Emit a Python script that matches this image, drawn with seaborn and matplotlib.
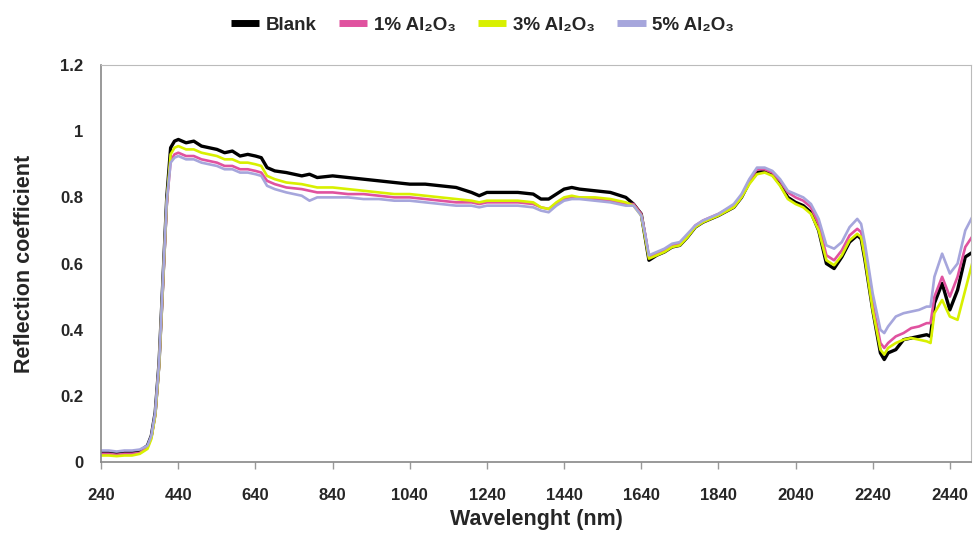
import pandas as pd
import matplotlib
matplotlib.use("Agg")
import matplotlib.pyplot as plt
import seaborn as sns

wavelength = [
    240, 260, 280, 300, 320, 340, 360, 370,
    380, 390, 400, 410, 420, 430, 440, 460,
    480, 500, 520, 540, 560, 580, 600, 620,
    640, 655, 670, 690, 720, 760, 780, 800,
    840, 880, 920, 960, 1000, 1040, 1080, 1120,
    1160, 1200, 1220, 1240, 1280, 1320, 1360, 1380,
    1400, 1420, 1440, 1460, 1480, 1520, 1560, 1600,
    1620, 1640, 1650, 1660, 1680, 1700, 1720, 1740,
    1760, 1780, 1800, 1840, 1880, 1900, 1920, 1940,
    1960, 1980, 2000, 2020, 2040, 2060, 2080, 2100,
    2120, 2140, 2160, 2180, 2200, 2210, 2220, 2240,
    2260, 2270, 2280, 2300, 2320, 2340, 2360, 2380,
    2390, 2400, 2420, 2440, 2460, 2480, 2500,
]

blank = [
    0.03, 0.03, 0.028, 0.03, 0.03, 0.033, 0.05, 0.08,
    0.15, 0.30, 0.55, 0.80, 0.95, 0.97, 0.975, 0.965,
    0.97, 0.955, 0.95, 0.945, 0.935, 0.94, 0.925, 0.93,
    0.925, 0.92, 0.89, 0.88, 0.875, 0.865, 0.87, 0.86,
    0.865, 0.86, 0.855, 0.85, 0.845, 0.84, 0.84, 0.835,
    0.83, 0.815, 0.805, 0.815, 0.815, 0.815, 0.81, 0.795,
    0.795, 0.81, 0.825, 0.83, 0.825, 0.82, 0.815, 0.80,
    0.78, 0.75, 0.68, 0.61, 0.625, 0.635, 0.65, 0.655,
    0.68, 0.71, 0.725, 0.745, 0.77, 0.80, 0.845, 0.875,
    0.88, 0.87, 0.84, 0.80, 0.785, 0.775, 0.755, 0.70,
    0.60, 0.585, 0.62, 0.665, 0.685, 0.675, 0.61, 0.46,
    0.33, 0.31, 0.33, 0.34, 0.37, 0.375, 0.38, 0.385,
    0.38, 0.48, 0.54, 0.46, 0.52, 0.62, 0.635,
]

al1 = [
    0.025, 0.025, 0.022, 0.025, 0.025, 0.028, 0.045, 0.075,
    0.14, 0.29, 0.53, 0.78, 0.91, 0.93, 0.935, 0.925,
    0.925, 0.915, 0.91, 0.905, 0.895, 0.895, 0.885, 0.885,
    0.88, 0.875, 0.85, 0.84, 0.83, 0.825, 0.82, 0.815,
    0.815, 0.81, 0.81, 0.805, 0.80, 0.80, 0.795, 0.79,
    0.785, 0.785, 0.78, 0.785, 0.785, 0.785, 0.78, 0.77,
    0.765, 0.78, 0.795, 0.80, 0.80, 0.795, 0.79, 0.78,
    0.78, 0.75, 0.69, 0.62, 0.63, 0.64, 0.655, 0.66,
    0.685, 0.715, 0.73, 0.75, 0.775, 0.805, 0.85, 0.885,
    0.885, 0.875, 0.85, 0.815, 0.80, 0.79, 0.77, 0.72,
    0.625, 0.61, 0.64, 0.685, 0.705, 0.695, 0.63, 0.48,
    0.36, 0.345, 0.36, 0.38, 0.39, 0.405, 0.41, 0.42,
    0.42, 0.50, 0.56, 0.50, 0.56, 0.65, 0.685,
]

al3 = [
    0.02, 0.02, 0.018, 0.02, 0.02, 0.025, 0.04, 0.07,
    0.14, 0.29, 0.54, 0.79, 0.93, 0.95, 0.955, 0.945,
    0.945, 0.935, 0.93, 0.925, 0.915, 0.915, 0.905, 0.905,
    0.90, 0.895, 0.865, 0.855, 0.845, 0.84, 0.835, 0.83,
    0.83, 0.825, 0.82, 0.815, 0.81, 0.81, 0.805, 0.80,
    0.795, 0.79, 0.785, 0.79, 0.79, 0.79, 0.785, 0.77,
    0.765, 0.785, 0.80, 0.805, 0.80, 0.80, 0.795, 0.785,
    0.775, 0.745, 0.68, 0.615, 0.625, 0.635, 0.65, 0.655,
    0.68, 0.71, 0.725, 0.745, 0.77, 0.80, 0.84, 0.87,
    0.875, 0.865, 0.835, 0.795, 0.78, 0.77, 0.75, 0.70,
    0.61, 0.595, 0.625, 0.67, 0.69, 0.68, 0.615, 0.46,
    0.34, 0.325, 0.345, 0.36, 0.37, 0.375, 0.37, 0.365,
    0.36, 0.45, 0.49, 0.44, 0.43, 0.52, 0.61,
]

al5 = [
    0.035, 0.035, 0.032, 0.035, 0.035, 0.038, 0.05, 0.08,
    0.15, 0.30, 0.55, 0.79, 0.905, 0.92, 0.925, 0.915,
    0.915, 0.905, 0.90, 0.895, 0.885, 0.885, 0.875, 0.875,
    0.87, 0.865, 0.835, 0.825, 0.815, 0.805, 0.79, 0.80,
    0.80, 0.80, 0.795, 0.795, 0.79, 0.79, 0.785, 0.78,
    0.775, 0.775, 0.77, 0.775, 0.775, 0.775, 0.77, 0.76,
    0.755, 0.775, 0.79, 0.795, 0.795, 0.79, 0.785, 0.775,
    0.775, 0.745, 0.69, 0.625, 0.635, 0.645, 0.66, 0.665,
    0.69, 0.715, 0.73, 0.75, 0.78, 0.81, 0.855, 0.89,
    0.89, 0.88, 0.855, 0.82, 0.81, 0.80, 0.78, 0.735,
    0.655, 0.645, 0.665, 0.71, 0.735, 0.72, 0.66, 0.51,
    0.40, 0.39, 0.41, 0.44, 0.45, 0.455, 0.46, 0.47,
    0.47, 0.56, 0.63, 0.57, 0.60, 0.70, 0.745,
]

labels = ["Blank", "1% Al₂O₃", "3% Al₂O₃", "5% Al₂O₃"]
colors = ["#000000", "#e0529f", "#d8f000", "#a6a6dc"]
x_ticks = [240, 440, 640, 840, 1040, 1240, 1440, 1640, 1840, 2040, 2240, 2440]

frames = []
for name, vals in zip(labels, [blank, al1, al3, al5]):
    frames.append(pd.DataFrame({"wl": wavelength, "r": vals, "sample": name}))
df = pd.concat(frames, ignore_index=True)

sns.set_style("white")
plt.rcParams["font.family"] = ["Liberation Sans", "DejaVu Sans"]
plt.rcParams["font.weight"] = "bold"

fig = plt.figure(figsize=(9.73, 5.33), dpi=100)
ax = fig.add_axes([0.104, 0.133, 0.894, 0.745])

sns.lineplot(data=df, x="wl", y="r", hue="sample", hue_order=labels,
             palette=colors, estimator=None, sort=False, linewidth=1.9,
             legend=False, ax=ax)
ax.get_lines()[0].set_linewidth(2.4)

ax.set_xlim(240, 2495)
ax.set_ylim(0, 1.2)
ax.set_xticks(x_ticks)
ax.set_yticks([0, 0.2, 0.4, 0.6, 0.8, 1.0, 1.2])
ax.set_yticklabels(["0", "0.2", "0.4", "0.6", "0.8", "1", "1.2"])
ax.tick_params(axis="x", labelsize=12, direction="out", length=5,
               width=1, color="#999999", bottom=True, pad=14)
ax.tick_params(axis="y", labelsize=12, left=False, length=0, pad=13)
for t in ax.get_xticklabels() + ax.get_yticklabels():
    t.set_fontweight("bold")

for s in ["top", "right"]:
    ax.spines[s].set_color("#bbbbbb")
    ax.spines[s].set_linewidth(0.8)
for s in ["left", "bottom"]:
    ax.spines[s].set_color("#888888")
    ax.spines[s].set_linewidth(1.2)

ax.set_xlabel("Wavelenght (nm)", fontsize=15.5, fontweight="bold", labelpad=4)
ax.set_ylabel("Reflection coefficient", fontsize=15.5, fontweight="bold", labelpad=18)

handles = ax.get_lines()[:4]
leg = fig.legend(handles, labels, loc="upper center", bbox_to_anchor=(0.496, 1.0),
                 ncol=4, frameon=False, handlelength=1.5, handletextpad=0.35,
                 columnspacing=1.2, prop={"weight": "bold", "size": 13.5})
for lh in leg.get_lines():
    lh.set_linewidth(5)
    lh.set_solid_capstyle("butt")

fig.savefig("out.png", dpi=100)
